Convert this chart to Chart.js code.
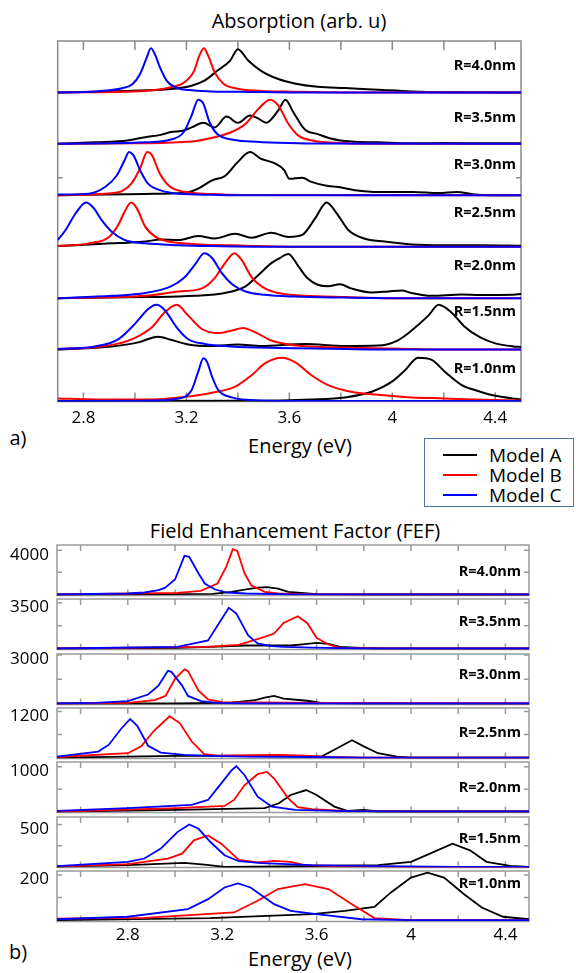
<!DOCTYPE html>
<html>
<head>
<meta charset="utf-8">
<script src="https://cdn.jsdelivr.net/npm/chart.js@4.4.1/dist/chart.umd.min.js"></script>
<style>
  html, body { margin: 0; padding: 0; background: #fff; }
  #page { position: relative; width: 576px; height: 973px; overflow: hidden; font-family: "Open Sans", sans-serif; color: #000; }
  .txt { position: absolute; white-space: nowrap; line-height: 1; transform: translate(-50%, -50%); }
  canvas { position: absolute; left: 0; }
  #legend { position: absolute; left: 424px; top: 438px; width: 150px; height: 69px; box-sizing: border-box; border: 1.5px solid #4f74a8; }
  .lg { position: absolute; left: 18px; height: 20px; width: 125px; }
  .lg i { position: absolute; left: 0; top: 9px; width: 34px; height: 2.5px; }
  .lg span { position: absolute; left: 46px; top: 0; font-size: 19px; line-height: 20px; white-space: nowrap; }
</style>
</head>
<body>
<div id="page">
  <div class="txt" style="left:299px;top:21px;font-size:20px">Absorption (arb. u)</div>
  <div class="txt" style="left:300px;top:446px;font-size:20px">Energy (eV)</div>
  <div class="txt" style="left:18px;top:438px;font-size:20px">a)</div>
  <div id="legend"></div>
  <div class="txt" style="left:295px;top:531px;font-size:20px">Field Enhancement Factor (FEF)</div>
  <div class="txt" style="left:300px;top:959px;font-size:20px">Energy (eV)</div>
  <div class="txt" style="left:18px;top:952px;font-size:20px">b)</div>
  <canvas id="abs" width="576" height="432" style="top:0"></canvas>
</div>
<script>
const radii = ['R=4.0nm', 'R=3.5nm', 'R=3.0nm', 'R=2.5nm', 'R=2.0nm', 'R=1.5nm', 'R=1.0nm'];
const modelNames = ['Model A', 'Model B', 'Model C'];
const absTicks = [2.8, 3.0, 3.2, 3.4, 3.6, 3.8, 4.0, 4.2, 4.4];
const fefTicks = [2.6, 2.8, 3.0, 3.2, 3.4, 3.6, 3.8, 4.0, 4.2, 4.4];
const energyLabels = ['2.8', '3.2', '3.6', '4', '4.4'];
const absYTicks = [4.34];
const fefTopTick = [4000, 3500, 3000, 1200, 1000, 500, 200];
const fefTickLabels = ['4000', '3500', '3000', '1200', '1000', '500', '200'];

// absorption, arb. units, [energy eV, value]
const absA40 = [[2.7,0],[2.97,0.03],[3.14,0.065],[3.22,0.13],[3.27,0.23],[3.32,0.42],[3.37,0.62],[3.40,0.84],[3.44,0.62],[3.49,0.42],[3.557,0.26],[3.62,0.175],[3.71,0.11],[3.816,0.084],[3.945,0.052],[4.075,0.02],[4.2,0.005],[4.5,0]];
const absB40 = [[2.7,0],[3.04,0.03],[3.14,0.1],[3.19,0.19],[3.23,0.42],[3.25,0.71],[3.268,0.86],[3.285,0.71],[3.31,0.39],[3.343,0.175],[3.39,0.08],[3.49,0.03],[3.62,0.013],[3.8,0],[4.5,0]];
const absC40 = [[2.7,0],[2.85,0.02],[2.95,0.08],[2.99,0.16],[3.02,0.36],[3.046,0.68],[3.062,0.86],[3.078,0.74],[3.097,0.49],[3.123,0.23],[3.156,0.1],[3.21,0.045],[3.3,0.02],[3.45,0.01],[3.6,0],[4.5,0]];

const absA35 = [[2.7,0],[2.845,0.03],[2.97,0.065],[3.04,0.13],[3.10,0.175],[3.14,0.23],[3.19,0.26],[3.22,0.32],[3.266,0.41],[3.31,0.32],[3.356,0.53],[3.40,0.41],[3.447,0.55],[3.48,0.49],[3.51,0.41],[3.557,0.65],[3.585,0.86],[3.615,0.62],[3.66,0.28],[3.71,0.19],[3.764,0.1],[3.84,0.045],[3.945,0.03],[4.075,0.013],[4.2,0.015],[4.35,0.01],[4.5,0.01]];
const absB35 = [[2.7,0],[3.0,0.01],[3.22,0.045],[3.31,0.13],[3.376,0.23],[3.43,0.39],[3.48,0.68],[3.525,0.86],[3.557,0.75],[3.596,0.39],[3.635,0.16],[3.69,0.065],[3.777,0.02],[3.9,0],[4.5,0]];
const absC35 = [[2.7,0],[3.04,0.03],[3.14,0.084],[3.19,0.23],[3.22,0.55],[3.246,0.86],[3.266,0.78],[3.29,0.42],[3.32,0.19],[3.376,0.084],[3.453,0.045],[3.557,0.02],[3.7,0.005],[4.5,0]];

const absA30 = [[2.7,0],[3.04,0.026],[3.195,0.05],[3.246,0.13],[3.30,0.29],[3.35,0.376],[3.40,0.65],[3.447,0.84],[3.49,0.71],[3.544,0.62],[3.58,0.49],[3.60,0.32],[3.65,0.34],[3.686,0.26],[3.74,0.19],[3.79,0.16],[3.855,0.1],[3.945,0.065],[4.08,0.065],[4.18,0.045],[4.25,0.065],[4.32,0.013],[4.4,0],[4.5,0]];
const absB30 = [[2.7,0],[2.91,0.04],[2.95,0.08],[2.987,0.23],[3.02,0.52],[3.048,0.84],[3.065,0.79],[3.097,0.42],[3.136,0.17],[3.195,0.065],[3.3,0.026],[3.4,0.005],[4.5,0]];
const absC30 = [[2.7,0.013],[2.82,0.03],[2.884,0.16],[2.93,0.39],[2.96,0.68],[2.977,0.84],[2.994,0.78],[3.02,0.49],[3.05,0.23],[3.097,0.1],[3.17,0.03],[3.3,0.01],[3.45,0],[4.5,0]];

const absA25 = [[2.7,0.013],[2.91,0.065],[2.975,0.078],[3.04,0.1],[3.10,0.14],[3.17,0.13],[3.246,0.21],[3.31,0.16],[3.39,0.25],[3.453,0.175],[3.53,0.27],[3.596,0.19],[3.65,0.23],[3.70,0.55],[3.745,0.86],[3.784,0.65],[3.83,0.32],[3.89,0.16],[3.97,0.1],[4.075,0.045],[4.2,0.03],[4.35,0.03],[4.5,0.02]];
const absB25 = [[2.7,0.013],[2.82,0.065],[2.90,0.19],[2.935,0.42],[2.96,0.68],[2.985,0.86],[3.007,0.75],[3.04,0.39],[3.08,0.19],[3.13,0.1],[3.233,0.05],[3.43,0.02],[3.6,0],[4.5,0]];
const absC25 = [[2.7,0.13],[2.73,0.32],[2.77,0.65],[2.81,0.86],[2.84,0.75],[2.87,0.52],[2.91,0.29],[2.96,0.13],[3.04,0.065],[3.17,0.03],[3.30,0.013],[3.5,0],[4.5,0]];

const absA20 = [[2.7,0],[3.04,0.02],[3.233,0.045],[3.35,0.1],[3.43,0.23],[3.48,0.45],[3.53,0.68],[3.563,0.78],[3.596,0.86],[3.635,0.62],[3.67,0.39],[3.71,0.26],[3.75,0.23],[3.796,0.27],[3.84,0.19],[3.92,0.11],[3.984,0.13],[4.036,0.15],[4.075,0.1],[4.15,0.045],[4.27,0.07],[4.34,0.06],[4.47,0.065],[4.5,0.08]];
const absB20 = [[2.7,0],[3.04,0.045],[3.17,0.13],[3.26,0.19],[3.31,0.39],[3.35,0.68],[3.386,0.875],[3.414,0.75],[3.453,0.41],[3.505,0.19],[3.557,0.1],[3.66,0.045],[3.816,0.02],[4.0,0],[4.5,0]];
const absC20 = [[2.7,0],[2.91,0.045],[3.04,0.1],[3.14,0.23],[3.19,0.39],[3.233,0.65],[3.27,0.875],[3.30,0.78],[3.337,0.49],[3.38,0.26],[3.43,0.13],[3.505,0.065],[3.62,0.03],[3.8,0.01],[4.0,0],[4.5,0]];

const absA15 = [[2.7,0],[2.91,0.06],[3.013,0.14],[3.09,0.25],[3.14,0.19],[3.207,0.1],[3.30,0.07],[3.40,0.1],[3.49,0.07],[3.66,0.11],[3.816,0.07],[3.945,0.078],[4.02,0.175],[4.075,0.37],[4.14,0.66],[4.18,0.87],[4.23,0.72],[4.28,0.45],[4.34,0.24],[4.40,0.12],[4.47,0.06],[4.5,0.05]];
const absB15 = [[2.7,0.013],[2.845,0.045],[2.975,0.175],[3.065,0.43],[3.117,0.73],[3.162,0.87],[3.207,0.66],[3.26,0.4],[3.324,0.32],[3.376,0.37],[3.42,0.42],[3.466,0.34],[3.53,0.175],[3.61,0.09],[3.725,0.05],[3.88,0.03],[4.075,0.01],[4.2,0],[4.5,0]];
const absC15 = [[2.7,0.013],[2.845,0.06],[2.935,0.2],[3.0,0.5],[3.052,0.79],[3.084,0.87],[3.117,0.76],[3.162,0.43],[3.207,0.2],[3.272,0.11],[3.376,0.06],[3.557,0.03],[3.816,0.01],[4.0,0],[4.5,0]];

const absA10 = [[2.7,0],[3.43,0.005],[3.686,0.03],[3.816,0.07],[3.92,0.18],[4.0,0.38],[4.05,0.6],[4.10,0.84],[4.153,0.8],[4.204,0.57],[4.27,0.31],[4.33,0.2],[4.4,0.1],[4.5,0.03]];
const absB10 = [[2.7,0.05],[2.845,0.03],[3.04,0.03],[3.195,0.08],[3.30,0.16],[3.39,0.28],[3.453,0.5],[3.505,0.73],[3.57,0.84],[3.62,0.76],[3.686,0.5],[3.75,0.31],[3.84,0.18],[3.945,0.12],[4.075,0.07],[4.2,0.05],[4.35,0.025],[4.5,0.01]];
const absC10 = [[2.7,0],[3.04,0.005],[3.17,0.05],[3.22,0.21],[3.246,0.57],[3.266,0.83],[3.28,0.76],[3.30,0.47],[3.324,0.21],[3.376,0.07],[3.453,0.02],[3.6,0],[4.5,0]];

// field enhancement factor, [energy eV, FEF]
const fefA40 = [[2.5,0],[3.16,60],[3.24,240],[3.295,450],[3.35,630],[3.39,660],[3.436,540],[3.48,240],[3.535,150],[3.6,30],[3.8,0],[4.5,0]];
const fefB40 = [[2.5,0],[3.01,150],[3.11,330],[3.18,990],[3.217,2500],[3.245,4090],[3.264,3940],[3.295,1900],[3.323,840],[3.38,240],[3.436,90],[3.6,20],[4.5,0]];
const fefC40 = [[2.5,0],[2.8,90],[2.87,180],[2.93,390],[2.957,600],[3.0,1350],[3.04,3490],[3.06,3400],[3.10,1900],[3.126,990],[3.17,450],[3.22,180],[3.30,90],[3.5,20],[4.5,0]];

const fefA35 = [[2.5,0],[3.01,50],[3.15,128],[3.30,230],[3.44,230],[3.49,230],[3.55,330],[3.60,435],[3.65,357],[3.70,128],[3.79,50],[3.86,0],[4.5,0]];
const fefB35 = [[2.5,0],[3.13,128],[3.27,280],[3.38,890],[3.42,1150],[3.46,1960],[3.52,2470],[3.56,1960],[3.60,816],[3.65,306],[3.70,50],[3.9,0],[4.5,0]];
const fefC35 = [[2.5,0],[3.01,128],[3.14,612],[3.228,3110],[3.26,2680],[3.31,995],[3.35,383],[3.41,180],[3.46,128],[3.58,70],[3.8,0],[4.5,0]];

const fefA30 = [[2.5,0],[3.01,0],[3.24,60],[3.34,213],[3.38,362],[3.42,470],[3.46,300],[3.56,170],[3.62,43],[3.8,0],[4.5,0]];
const fefB30 = [[2.5,0],[2.80,43],[2.915,213],[2.96,470],[3.0,1530],[3.04,2110],[3.055,2000],[3.10,790],[3.14,256],[3.20,85],[3.6,40],[4.0,20],[4.5,0]];
const fefC30 = [[2.5,0],[2.66,43],[2.80,150],[2.886,554],[2.93,1108],[2.97,2020],[2.985,1960],[3.03,1108],[3.055,470],[3.11,150],[3.18,43],[3.3,0],[4.5,0]];

const fefA25 = [[2.5,0],[3.01,45],[3.44,53],[3.62,27],[3.675,205],[3.75,454],[3.80,294],[3.86,116],[3.94,27],[4.0,0],[4.5,0]];
const fefB25 = [[2.5,18],[2.80,116],[2.857,294],[2.91,694],[2.977,1077],[3.02,900],[3.07,427],[3.125,89],[3.18,53],[3.44,71],[3.55,53],[3.65,18],[3.8,0],[4.5,0]];
const fefC25 = [[2.5,27],[2.675,160],[2.72,338],[2.77,740],[2.81,1006],[2.84,830],[2.886,310],[2.94,134],[3.04,71],[3.15,45],[3.30,27],[3.58,18],[3.8,0],[4.5,0]];

const fefA20 = [[2.5,0],[3.01,37],[3.38,74],[3.44,185],[3.49,370],[3.556,481],[3.60,370],[3.675,111],[3.73,15],[3.80,37],[3.86,0],[4.5,0]];
const fefB20 = [[2.5,0],[3.01,74],[3.21,126],[3.25,259],[3.295,592],[3.35,836],[3.39,888],[3.42,740],[3.48,296],[3.52,96],[3.58,52],[3.72,15],[4.0,0],[4.5,0]];
const fefC20 = [[2.5,15],[2.80,74],[3.07,148],[3.14,259],[3.196,630],[3.24,925],[3.26,1014],[3.295,814],[3.35,333],[3.41,111],[3.51,37],[3.72,8],[4.0,0],[4.5,0]];

const fefA15 = [[2.5,4],[2.80,20],[3.04,47],[3.125,27],[3.21,0],[3.44,4],[3.86,20],[4.0,59],[4.08,156],[4.176,273],[4.25,195],[4.32,59],[4.42,12],[4.5,0]];
const fefB15 = [[2.5,4],[2.80,31],[2.97,98],[3.03,156],[3.08,312],[3.14,371],[3.196,273],[3.27,82],[3.35,51],[3.42,70],[3.49,59],[3.55,20],[3.72,8],[4.0,0],[4.5,0]];
const fefC15 = [[2.5,8],[2.80,59],[2.87,98],[2.94,215],[3.01,410],[3.06,500],[3.10,449],[3.15,293],[3.21,137],[3.27,66],[3.37,43],[3.58,20],[3.86,8],[4.2,0],[4.5,0]];

const fefA10 = [[2.5,0],[3.15,9],[3.58,27],[3.72,41],[3.845,59],[3.915,123],[4.0,189],[4.07,211],[4.14,189],[4.225,115],[4.30,56],[4.39,15],[4.5,4]];
const fefB10 = [[2.5,7],[2.87,10],[3.25,34],[3.35,86],[3.436,138],[3.55,160],[3.65,138],[3.75,71],[3.845,9],[4.0,0],[4.5,0]];
const fefC10 = [[2.5,4],[2.80,15],[3.055,49],[3.14,93],[3.21,145],[3.267,163],[3.32,145],[3.42,71],[3.49,41],[3.60,27],[3.79,4],[4.0,0],[4.5,0]];

const absA = [absA40, absA35, absA30, absA25, absA20, absA15, absA10];
const absB = [absB40, absB35, absB30, absB25, absB20, absB15, absB10];
const absC = [absC40, absC35, absC30, absC25, absC20, absC15, absC10];
const fefA = [fefA40, fefA35, fefA30, fefA25, fefA20, fefA15, fefA10];
const fefB = [fefB40, fefB35, fefB30, fefB25, fefB20, fefB15, fefB10];
const fefC = [fefC40, fefC35, fefC30, fefC25, fefC20, fefC15, fefC10];

// styling / layout
const modelColors = ['#000000', '#ff0000', '#0000ff'];
const absLabelLift = [0.51, 0.51, 0.6, 0.66, 0.62, 0.73, 0.62];
const fefMin = [-90, -77, -62, -21, -22, -8, -6];
const fefMax = [4470, 3791, 3064, 1292, 1109, 588, 218];
const fefLabelAt = [2040, 2015, 1795, 634, 538, 334, 160];
const fefTop0 = 545, fefStep = 54.3, fefBoxH = 50.5;
const tickFont = { family: 'Open Sans', size: 17 };

const energyLabel = v => {
  const s = String(Math.round(v * 10) / 10);
  return energyLabels.includes(s) ? s : '';
};
const noPad = s => { s.paddingTop = 0; s.paddingBottom = 0; s.paddingLeft = 0; s.paddingRight = 0; };

// legend box
const legend = document.getElementById('legend');
modelNames.forEach((name, i) => {
  const row = document.createElement('div');
  row.className = 'lg';
  row.style.top = (5.5 + i * 20) + 'px';
  row.innerHTML = `<i style="background:${modelColors[i]}"></i><span>${name}</span>`;
  legend.appendChild(row);
});

const framePlugin = {
  id: 'frame',
  beforeDatasetsDraw(chart, args, o) {
    const { ctx, chartArea: a, scales: { x, y } } = chart;
    ctx.save();
    ctx.strokeStyle = o.color;
    ctx.lineWidth = o.width;
    ctx.strokeRect(a.left, a.top, a.right - a.left, a.bottom - a.top);
    ctx.beginPath();
    x.ticks.forEach(t => {
      const px = x.getPixelForValue(t.value);
      ctx.moveTo(px, a.top); ctx.lineTo(px, a.top + o.xLen);
      ctx.moveTo(px, a.bottom); ctx.lineTo(px, a.bottom - o.xLen);
    });
    y.ticks.forEach(t => {
      const py = y.getPixelForValue(t.value);
      ctx.moveTo(a.left, py); ctx.lineTo(a.left + o.yLen, py);
      ctx.moveTo(a.right, py); ctx.lineTo(a.right - o.yLen, py);
    });
    ctx.stroke();
    ctx.restore();
  }
};

const rLabelPlugin = {
  id: 'rLabels',
  afterDatasetsDraw(chart, args, o) {
    const { ctx, chartArea: a, scales: { y } } = chart;
    ctx.save();
    ctx.font = 'bold 14.5px "Open Sans"';
    ctx.fillStyle = '#000';
    ctx.textAlign = 'right';
    ctx.textBaseline = 'middle';
    o.items.forEach(it => ctx.fillText(it.text, a.right - o.inset, y.getPixelForValue(it.y)));
    ctx.restore();
  }
};

function lineSet(pts, k, off, smooth, width) {
  return {
    data: pts.map(p => ({ x: p[0], y: p[1] + off })),
    borderColor: modelColors[k],
    borderWidth: width,
    pointRadius: 0,
    order: 3 - k,
    fill: false,
    tension: 0,
    cubicInterpolationMode: smooth ? 'monotone' : 'default'
  };
}

// ---- a) absorption: one chart, subplots stacked by offset
const absDatasets = [];
radii.forEach((r, i) => {
  const off = radii.length - 1 - i;
  [absA[i], absB[i], absC[i]].forEach((pts, k) => absDatasets.push(lineSet(pts, k, off, true, 2)));
});

new Chart(document.getElementById('abs'), {
  type: 'line',
  data: { datasets: absDatasets },
  plugins: [framePlugin, rLabelPlugin],
  options: {
    responsive: false,
    animation: false,
    devicePixelRatio: 1,
    layout: { padding: { top: 41, right: 55, left: 0, bottom: 0 } },
    plugins: {
      legend: { display: false },
      tooltip: { enabled: false },
      frame: { color: '#8a8a8a', width: 1.5, xLen: 9, yLen: 5 },
      rLabels: { inset: 5, items: radii.map((r, i) => ({ text: r, y: radii.length - 1 - i + absLabelLift[i] })) }
    },
    scales: {
      x: {
        type: 'linear', min: 2.7, max: 4.5,
        afterBuildTicks: s => { s.ticks = absTicks.map(v => ({ value: v })); },
        ticks: { font: tickFont, color: '#000', padding: 6.5, maxRotation: 0, autoSkip: false, callback: energyLabel },
        grid: { display: false, drawTicks: false },
        border: { display: false },
        afterFit: s => { s.height = 30.5; noPad(s); }
      },
      y: {
        type: 'linear', min: -0.01, max: 7,
        afterBuildTicks: s => { s.ticks = absYTicks.map(v => ({ value: v })); },
        ticks: { display: false },
        grid: { display: false, drawTicks: false },
        border: { display: false },
        afterFit: s => { s.width = 57.7; noPad(s); }
      }
    }
  }
});

// ---- b) FEF: one boxed chart per radius
const page = document.getElementById('page');
radii.forEach((r, i) => {
  const last = i === radii.length - 1;
  const padTop = 8, padBot = last ? 40 : 8;
  const cv = document.createElement('canvas');
  cv.width = 576;
  cv.height = Math.round(padTop + fefBoxH + padBot);
  cv.style.top = (fefTop0 + i * fefStep - padTop) + 'px';
  page.appendChild(cv);
  const top = fefTopTick[i];

  new Chart(cv, {
    type: 'line',
    data: { datasets: [fefA[i], fefB[i], fefC[i]].map((pts, k) => lineSet(pts, k, 0, false, 1.8)) },
    plugins: [framePlugin, rLabelPlugin],
    options: {
      responsive: false,
      animation: false,
      devicePixelRatio: 1,
      layout: { padding: { top: padTop, right: 47, left: 0, bottom: 0 } },
      plugins: {
        legend: { display: false },
        tooltip: { enabled: false },
        frame: { color: '#9a9a9a', width: 1.5, xLen: 6, yLen: 5 },
        rLabels: { inset: 8, items: [{ text: r, y: fefLabelAt[i] }] }
      },
      scales: {
        x: {
          type: 'linear', min: 2.5, max: 4.5,
          afterBuildTicks: s => { s.ticks = fefTicks.map(v => ({ value: v })); },
          ticks: { display: last, font: tickFont, color: '#000', padding: 3.5, maxRotation: 0, autoSkip: false, callback: energyLabel },
          grid: { display: false, drawTicks: false },
          border: { display: false },
          afterFit: s => { s.height = cv.height - padTop - fefBoxH; noPad(s); }
        },
        y: {
          type: 'linear', min: fefMin[i], max: fefMax[i],
          afterBuildTicks: s => { s.ticks = [{ value: top / 2 }, { value: top }]; },
          ticks: { font: tickFont, color: '#000', padding: 8, labelOffset: 4.5, callback: v => (v === top ? fefTickLabels[i] : '') },
          grid: { display: false, drawTicks: false },
          border: { display: false },
          afterFit: s => { s.width = 57; noPad(s); }
        }
      }
    }
  });
});
</script>
</body>
</html>
